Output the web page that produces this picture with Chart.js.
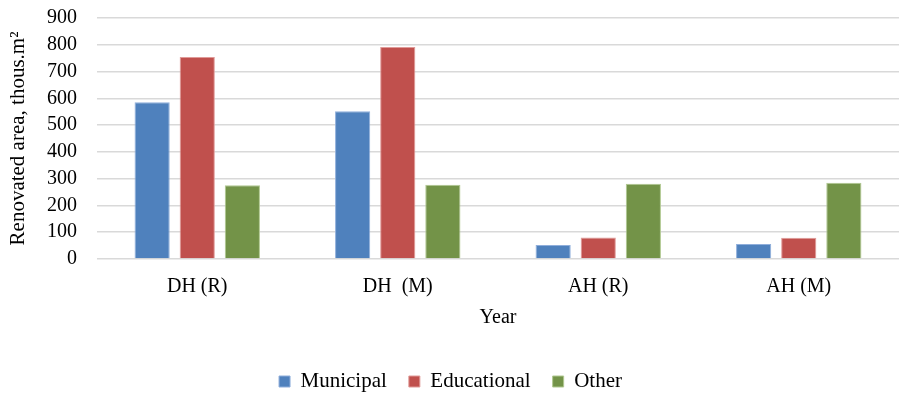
<!DOCTYPE html>
<html>
<head>
<meta charset="utf-8">
<script src="https://cdn.jsdelivr.net/npm/chart.js@4"></script>
<style>
  html, body { margin: 0; padding: 0; background: #fff; }
  #renovChart { display: block; }
</style>
</head>
<body>
<canvas id="renovChart" width="909" height="395"></canvas>
<script>
// カテゴリと系列データ（千m²）
const categories = ['DH (R)', 'DH  (M)', 'AH (R)', 'AH (M)'];
const municipal = [585, 552, 52, 56];
const educational = [754, 792, 80, 79];
const other = [275, 277, 281, 285];
const yMin = 0, yMax = 900, yStep = 100;

const serif = "'Liberation Serif', 'Times New Roman', serif";
Chart.defaults.font.family = serif;
Chart.defaults.font.size = 20;
Chart.defaults.color = '#000';

const ctx = document.getElementById('renovChart').getContext('2d');

new Chart(ctx, {
    type: 'bar',
    data: {
        labels: categories,
        datasets: [
            { label: 'Municipal', data: municipal, backgroundColor: '#4F81BD', borderColor: '#8FAEDB', borderWidth: 1 },
            { label: 'Educational', data: educational, backgroundColor: '#C0504D', borderColor: '#E09A98', borderWidth: 1 },
            { label: 'Other', data: other, backgroundColor: '#739348', borderColor: '#B0C890', borderWidth: 1 }
        ]
    },
    options: {
        responsive: false,
        animation: false,
        categoryPercentage: 0.675,
        barPercentage: 0.78,
        layout: { padding: { top: 18, right: 10, left: 2, bottom: -7 } },
        plugins: {
            tooltip: { enabled: false },
            legend: {
                position: 'bottom',
                labels: {
                    boxWidth: 11,
                    boxHeight: 11,
                    padding: 22,
                    font: { size: 21, family: serif }
                }
            }
        },
        scales: {
            x: {
                grid: { display: false, drawTicks: false },
                border: { display: false },
                ticks: { padding: 16 },
                title: { display: true, text: 'Year', padding: { top: 12, bottom: 19 } },
                afterFit: (scale) => { scale.height = 90; }
            },
            y: {
                min: yMin,
                max: yMax,
                grid: { color: '#D9D9D9', lineWidth: 1.5, drawTicks: false },
                border: { display: false },
                ticks: { stepSize: yStep, autoSkip: false, padding: 20 },
                title: { display: true, text: 'Renovated area, thous.m²', font: { size: 21 }, padding: { bottom: 1 } },
                afterFit: (scale) => {
                    scale.width = 95;
                    scale.paddingTop = 0;
                    scale.paddingBottom = 0;
                }
            }
        }
    }
});
</script>
</body>
</html>
